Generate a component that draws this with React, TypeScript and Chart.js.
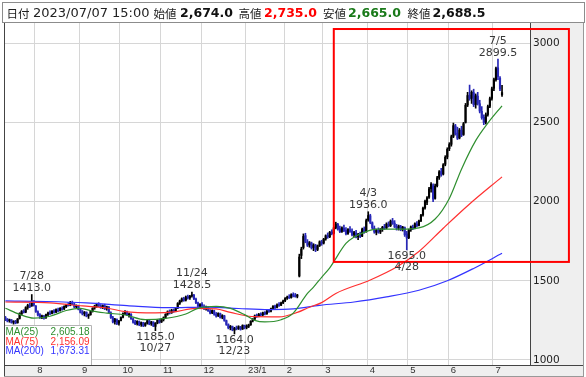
import { useEffect, useRef } from 'react';
import { Chart, registerables } from 'chart.js';

Chart.register(...registerables);

// ---- Daily candles (2022/07/08 .. 2023/07/07), one entry per trading day ----
const opens = [
  1268,1255,1248,1252,1238,1242,1235,1262,1290,1308,1302,1332,1340,1342,1368,
  1340,1304,1286,1270,1276,1266,1288,1298,1294,1310,1302,1316,1312,1324,1322,1336,1350,1346,1362,1350,1336,1342,
  1318,1302,1292,1300,1278,1286,1308,1328,1338,1352,1340,1334,1342,1324,1334,1298,1266,1242,1254,1232,
  1250,1270,1294,1302,1284,1288,1258,1240,1230,1242,1224,1234,1218,1232,1246,1228,1238,1212,1234,1248,
  1240,1256,1268,1290,1302,1298,1312,1308,1328,1358,1374,1388,1378,1400,1392,1404,1408,1384,1360,1338,
  1352,1338,1326,1332,1308,1298,1310,1290,1278,1292,1270,1278,1248,1222,1204,1210,1188,1202,1198,1208,1196,1216,
  1206,1212,1222,1246,1258,1280,1276,1290,1286,1300,1292,1312,1308,1326,1340,1332,1350,1346,1362,
  1374,1390,1398,1394,1414,1406,1402,1530,1660,1710,1785,1746,1726,1738,1710,1724,1698,1722,1744,
  1738,1764,1786,1778,1808,1800,1836,1856,1828,1812,1832,1818,1798,1822,1814,1792,1802,1778,1792,1782,1828,1810,
  1884,1910,1866,1832,1806,1820,1808,1826,1840,1834,1856,1848,1878,1864,1842,1832,1844,1824,1836,1796,
  1772,1822,1838,1832,1858,1850,1880,1916,1960,1996,2028,2082,2100,2020,2100,2152,2190,2174,2236,2282,
  2334,2362,2412,2478,2432,2402,2450,2424,2500,2610,2672,2652,2688,2614,2666,2618,2570,2532,2502,2550,2602,2652,
  2716,2770,2845,2780,2674,
];
const highs = [
  1275,1262,1258,1256,1248,1250,1262,1298,1312,1318,1336,1352,1358,1413,1375,
  1344,1310,1292,1284,1282,1290,1302,1310,1312,1318,1322,1328,1330,1336,1342,1352,1362,1370,1372,1358,1348,1346,
  1324,1312,1306,1304,1290,1310,1330,1346,1358,1362,1350,1348,1352,1340,1338,1304,1276,1262,1260,1250,
  1272,1298,1312,1308,1296,1292,1264,1250,1248,1246,1240,1238,1236,1252,1250,1244,1242,1236,1254,1258,
  1262,1272,1292,1310,1316,1320,1322,1332,1362,1378,1392,1396,1404,1410,1408,1428.5,1414,1390,1366,1356,
  1362,1348,1340,1336,1318,1316,1314,1300,1298,1296,1286,1282,1252,1228,1218,1214,1206,1214,1216,1212,1222,1220,
  1222,1226,1248,1262,1284,1290,1294,1298,1302,1306,1314,1320,1328,1344,1346,1354,1362,1366,1378,
  1394,1404,1412,1418,1424,1420,1414,1668,1712,1796,1800,1760,1748,1744,1734,1730,1726,1752,1756,
  1768,1790,1802,1812,1822,1840,1870,1862,1846,1840,1852,1836,1830,1842,1828,1812,1818,1800,1808,1832,1840,1890,
  1936,1920,1872,1846,1826,1834,1830,1844,1856,1866,1872,1884,1894,1880,1856,1852,1850,1844,1840,1812,
  1826,1846,1852,1866,1874,1884,1920,1966,2010,2032,2090,2120,2112,2110,2160,2196,2210,2240,2290,2340,
  2372,2420,2496,2488,2470,2462,2476,2500,2620,2690,2736,2700,2710,2680,2690,2640,2600,2548,2560,2610,2660,2724,
  2780,2850,2899.5,2790,2735,
];
const lows = [
  1248,1240,1238,1232,1226,1228,1232,1258,1284,1296,1298,1320,1330,1338,1340,
  1300,1278,1262,1260,1258,1262,1280,1286,1290,1296,1298,1304,1308,1314,1318,1330,1340,1342,1348,1330,1326,1316,
  1296,1284,1278,1272,1262,1282,1302,1320,1332,1336,1326,1324,1318,1314,1296,1262,1234,1226,1222,1220,
  1246,1266,1286,1280,1270,1256,1232,1222,1220,1216,1212,1210,1212,1226,1222,1218,1210,1185,1228,1232,
  1236,1246,1262,1282,1290,1294,1300,1304,1324,1350,1366,1370,1372,1384,1382,1396,1380,1356,1334,1330,
  1334,1318,1314,1306,1290,1292,1282,1270,1274,1264,1260,1244,1218,1196,1190,1184,1164,1190,1192,1188,1192,1196,
  1196,1204,1218,1240,1252,1268,1272,1278,1280,1284,1288,1300,1304,1320,1324,1328,1338,1342,1356,
  1368,1382,1388,1390,1398,1396,1392,1524,1640,1700,1740,1716,1712,1700,1690,1684,1690,1716,1724,
  1732,1756,1768,1772,1790,1796,1828,1820,1804,1806,1810,1790,1792,1806,1784,1776,1770,1760,1772,1778,1800,1806,
  1876,1860,1826,1800,1790,1800,1798,1812,1824,1828,1840,1842,1856,1836,1820,1820,1816,1814,1780,1695,
  1766,1812,1822,1828,1840,1846,1874,1908,1952,1980,2020,2060,2000,2016,2092,2140,2160,2168,2226,2270,
  2322,2350,2404,2420,2392,2396,2410,2418,2496,2600,2640,2620,2600,2590,2610,2560,2520,2486,2490,2540,2594,2640,
  2700,2760,2770,2700,2665,
];
const closes = [
  1252,1245,1254,1236,1244,1232,1258,1292,1306,1300,1330,1344,1336,1372,1346,
  1306,1284,1268,1278,1264,1286,1296,1292,1308,1300,1318,1310,1326,1320,1338,1348,1344,1364,1352,1334,1344,1320,
  1300,1290,1302,1276,1284,1306,1326,1340,1350,1342,1332,1344,1322,1336,1300,1268,1240,1256,1230,1246,
  1268,1292,1304,1286,1290,1260,1238,1228,1244,1222,1236,1216,1230,1248,1226,1240,1214,1232,1250,1238,
  1258,1266,1288,1304,1296,1314,1306,1326,1356,1372,1386,1376,1398,1390,1402,1410,1386,1362,1340,1350,
  1340,1324,1334,1310,1296,1312,1288,1276,1294,1268,1280,1250,1224,1202,1212,1190,1200,1196,1210,1194,1218,1204,
  1214,1220,1244,1256,1278,1274,1288,1284,1298,1290,1310,1306,1324,1338,1330,1348,1344,1360,1372,
  1388,1396,1392,1412,1404,1400,1410,1650,1700,1780,1748,1724,1740,1708,1726,1696,1720,1746,1736,
  1762,1784,1776,1806,1798,1834,1858,1826,1810,1834,1816,1796,1824,1812,1790,1804,1776,1794,1780,1826,1808,1880,
  1912,1868,1834,1808,1818,1806,1824,1838,1832,1858,1846,1876,1862,1840,1830,1846,1822,1838,1790,1770,
  1820,1840,1830,1860,1848,1878,1914,1958,2002,2024,2080,2110,2016,2098,2150,2188,2172,2232,2280,2330,
  2360,2410,2480,2430,2400,2452,2420,2492,2608,2670,2650,2690,2612,2668,2620,2572,2530,2500,2548,2600,2650,2712,
  2770,2840,2790,2712,2688.5,
];

// ---- Moving averages: [trading-day index, value] ----
const ma25 = [
  [0,1326],[7,1288],[14,1264],[22,1276],[30,1312],[37,1326],[43,1308],[50,1296],[59,1284],[69,1254],
  [79,1262],[89,1290],[95,1326],[104,1338],[111,1326],[118,1286],[123,1250],[128,1240],[136,1254],[142,1296],
  [149,1420],[152,1460],[156,1522],[160,1582],[168,1736],[172,1776],[177,1806],[183,1826],[195,1826],[204,1834],
  [212,1890],[219,2020],[225,2205],[232,2385],[238,2496],[245,2605.18],
];
const ma75 = [
  [0,1366],[22,1360],[38,1341],[50,1328],[59,1305],[74,1297],[83,1303],[94,1326],[104,1322],[111,1300],
  [123,1273],[135,1272],[144,1300],[150,1333],[156,1362],[163,1420],[180,1505],[193,1587],[204,1685],
  [216,1832],[229,1985],[245,2156.09],
];
const ma200 = [
  [0,1373],[20,1369],[40,1360],[60,1343],[80,1330],[100,1334],[115,1325],[130,1318],[142,1322],[155,1345],
  [172,1366],[188,1398],[204,1440],[218,1500],[231,1578],[245,1673.31],
];

// ---- Axis ticks ----
const monthTicks = [14.5, 36.5, 56.5, 76.5, 96.5, 118.5, 137.5, 156.5, 178.5, 198.5, 218.5, 240.5];
const monthLabels = ['8', '9', '10', '11', '12', '23/1', '2', '3', '4', '5', '6', '7'];
const priceTicks = [1000, 1500, 2000, 2500, 3000];

// ---- Annotated highs / lows ----
const marks = [
  { i: 13, date: '7/28', kind: 'high' },
  { i: 74, date: '10/27', kind: 'low' },
  { i: 92, date: '11/24', kind: 'high' },
  { i: 113, date: '12/23', kind: 'low' },
  { i: 179, date: '4/3', kind: 'high' },
  { i: 198, date: '4/28', kind: 'low' },
  { i: 243, date: '7/5', kind: 'high' },
];

// highlighted region (index range, price range)
const focusBox = { i0: 162, i1: 278, p0: 1619, p1: 3090 };

const headerDate = '2023/07/07 15:00';

const UP = '#000000';
const DOWN = '#2828b8';
const GREEN = '#2f8f2f';
const RED = '#ff3030';
const BLUE = '#3434ff';

const fmt1 = (v: number) =>
  v.toLocaleString('en-US', { minimumFractionDigits: 1, maximumFractionDigits: 1 });
const fmt2 = (v: number) =>
  v.toLocaleString('en-US', { minimumFractionDigits: 2, maximumFractionDigits: 2 });

const W = 586;
const H = 377;

const framePlugin = {
  id: 'frame',
  beforeDraw(chart: any) {
    const { ctx, chartArea: a } = chart;
    ctx.save();
    ctx.fillStyle = '#ffffff';
    ctx.fillRect(0, 0, W, H);
    ctx.fillStyle = '#efefef';
    ctx.fillRect(a.right, a.top, 584 - a.right, a.bottom - a.top);
    ctx.fillRect(4, a.bottom, 580, 376 - a.bottom);
    ctx.restore();
  },
  afterDraw(chart: any) {
    const { ctx, chartArea: a } = chart;
    const xs = chart.scales.x;
    const ys = chart.scales.y;
    ctx.save();

    // highlight rectangle
    const bx0 = xs.getPixelForValue(focusBox.i0);
    const bx1 = xs.getPixelForValue(focusBox.i1);
    const by0 = ys.getPixelForValue(focusBox.p1);
    const by1 = ys.getPixelForValue(focusBox.p0);
    ctx.strokeStyle = '#ff0000';
    ctx.lineWidth = 2;
    ctx.strokeRect(bx0, by0, bx1 - bx0, by1 - by0);

    // high / low annotations
    ctx.font = '11px "DejaVu Sans"';
    ctx.fillStyle = '#383838';
    ctx.textAlign = 'center';
    ctx.textBaseline = 'middle';
    for (const m of marks) {
      const x = xs.getPixelForValue(m.i);
      if (m.kind === 'high') {
        const y = ys.getPixelForValue(highs[m.i]);
        ctx.fillText(highs[m.i].toFixed(1), x, y - 6.5);
        ctx.fillText(m.date, x, y - 18.5);
      } else {
        const y = ys.getPixelForValue(lows[m.i]);
        ctx.fillText(lows[m.i].toFixed(1), x, y + 6);
        ctx.fillText(m.date, x, y + 17.5);
      }
    }

    // frame lines
    ctx.strokeStyle = '#444';
    ctx.lineWidth = 1;
    ctx.beginPath();
    ctx.moveTo(4, a.bottom + 0.5);
    ctx.lineTo(584, a.bottom + 0.5);
    ctx.moveTo(4.5, a.top);
    ctx.lineTo(4.5, 376);
    ctx.stroke();
    ctx.strokeStyle = '#999';
    ctx.beginPath();
    ctx.moveTo(4, a.top - 0.5);
    ctx.lineTo(584, a.top - 0.5);
    ctx.moveTo(583.5, a.top);
    ctx.lineTo(583.5, 376.5);
    ctx.moveTo(4, 376.5);
    ctx.lineTo(584, 376.5);
    ctx.stroke();

    // header box
    ctx.strokeStyle = '#8c8c8c';
    ctx.strokeRect(2.5, 2.5, 582, 20);
    const last = closes.length - 1;
    const hy = 13.5;
    ctx.textAlign = 'left';
    ctx.textBaseline = 'middle';
    const lab = (t: string, x: number) => {
      ctx.font = '11.5px "Noto Sans CJK JP"';
      ctx.fillStyle = '#222';
      ctx.fillText(t, x, hy);
    };
    const val = (t: string, x: number, c: string) => {
      ctx.font = 'bold 12.5px "DejaVu Sans"';
      ctx.fillStyle = c;
      ctx.fillText(t, x, hy);
    };
    lab('日付', 6.5);
    ctx.font = '13px "DejaVu Sans"';
    ctx.fillStyle = '#222';
    ctx.fillText(headerDate, 33, hy);
    lab('始値', 153.5);
    val(fmt1(opens[last]), 180, '#111');
    lab('高値', 238.5);
    val(fmt1(highs[last]), 264, '#ff0000');
    lab('安値', 323);
    val(fmt1(lows[last]), 348, '#1a7a1a');
    lab('終値', 407.5);
    val(fmt1(closes[last]), 432.5, '#111');

    // MA legend box
    ctx.fillStyle = '#ffffff';
    ctx.fillRect(5, 325, 86, a.bottom - 325);
    ctx.strokeStyle = '#b4b4b4';
    ctx.beginPath();
    ctx.moveTo(5, 325.5);
    ctx.lineTo(91.5, 325.5);
    ctx.lineTo(91.5, a.bottom);
    ctx.stroke();
    const rows = [
      { t: 'MA(25)', v: ma25[ma25.length - 1][1], c: GREEN },
      { t: 'MA(75)', v: ma75[ma75.length - 1][1], c: RED },
      { t: 'MA(200)', v: ma200[ma200.length - 1][1], c: BLUE },
    ];
    ctx.font = '10px "Liberation Sans"';
    rows.forEach((r, k) => {
      const y = 332.5 + k * 9.4;
      ctx.fillStyle = r.c;
      ctx.textAlign = 'left';
      ctx.fillText(r.t, 5.5, y);
      ctx.textAlign = 'right';
      ctx.fillText(fmt2(r.v), 89.5, y);
    });

    ctx.restore();
  },
};

export default function App() {
  const ref = useRef<HTMLCanvasElement | null>(null);

  useEffect(() => {
    const canvas = ref.current;
    if (!canvas) return;
    const idx = closes.map((_, i) => i);
    const colorOf = (c: any) => {
      const i = c.dataIndex;
      return closes[i] >= opens[i] ? UP : DOWN;
    };
    const line = (label: string, pts: number[][], color: string) => ({
      type: 'line' as const,
      label,
      data: pts.map(([x, y]) => ({ x, y })),
      borderColor: color,
      backgroundColor: color,
      borderWidth: 1.2,
      pointRadius: 0,
      tension: 0.4,
      cubicInterpolationMode: 'monotone' as const,
      order: 0,
    });
    const chart = new Chart(canvas, {
      type: 'bar',
      data: {
        datasets: [
          line('MA(25)', ma25, GREEN),
          line('MA(75)', ma75, RED),
          line('MA(200)', ma200, BLUE),
          {
            type: 'bar',
            label: 'wick',
            data: idx.map((i) => ({ x: i, y: [lows[i], highs[i]] })) as any,
            backgroundColor: colorOf,
            barThickness: 1,
            grouped: false,
            order: 2,
          } as any,
          {
            type: 'bar',
            label: 'body',
            data: idx.map((i) => ({ x: i, y: [opens[i], closes[i]] })) as any,
            backgroundColor: colorOf,
            barThickness: 1.5,
            minBarLength: 1,
            grouped: false,
            order: 1,
          } as any,
        ],
      },
      options: {
        animation: false,
        responsive: false,
        devicePixelRatio: 1,
        layout: { padding: { left: 4, top: 23, right: 2, bottom: 0 } },
        plugins: { legend: { display: false }, tooltip: { enabled: false } },
        scales: {
          x: {
            type: 'linear',
            min: -0.7,
            max: 258.8,
            offset: false,
            grid: { color: '#d6d6d6', offset: false, drawTicks: false, lineWidth: 1 },
            border: { color: '#444' },
            ticks: {
              autoSkip: false,
              maxRotation: 0,
              align: 'start',
              labelOffset: 2.5,
              padding: 0,
              color: '#333',
              font: { family: '"Liberation Sans"', size: 9.5 },
              callback: (v: any) => {
                const k = monthTicks.indexOf(Number(v));
                return k >= 0 ? monthLabels[k] : '';
              },
            },
            afterBuildTicks: (s: any) => {
              s.ticks = monthTicks.map((v) => ({ value: v }));
            },
            afterFit: (s: any) => {
              s.height = 12;
            },
          },
          y: {
            position: 'right',
            min: 968,
            max: 3128,
            grid: { color: '#d6d6d6', drawTicks: false, lineWidth: 1 },
            border: { color: '#444' },
            ticks: {
              padding: 3,
              color: '#222',
              font: { family: '"DejaVu Sans"', size: 10.5 },
              callback: (v: any) => String(v),
            },
            afterBuildTicks: (s: any) => {
              s.ticks = priceTicks.map((v) => ({ value: v }));
            },
            afterFit: (s: any) => {
              s.width = 54;
            },
          },
        },
      } as any,
      plugins: [framePlugin],
    });
    return () => chart.destroy();
  }, []);

  return (
    <div style={{ position: 'fixed', left: 0, top: 0, width: W, height: H, background: '#fff' }}>
      <canvas ref={ref} width={W} height={H} style={{ display: 'block', width: W, height: H }} />
    </div>
  );
}
